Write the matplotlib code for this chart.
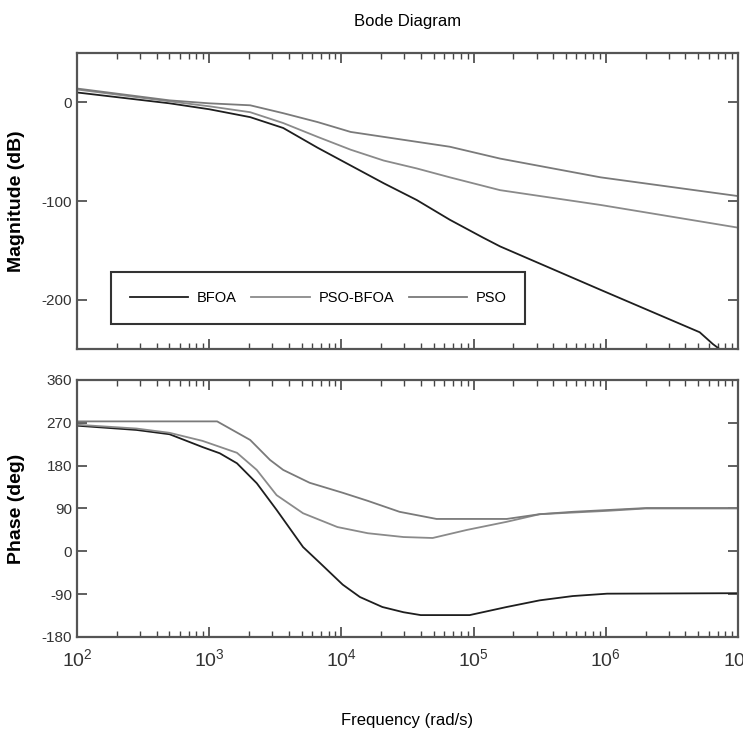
import matplotlib
matplotlib.use("Agg")
import matplotlib.pyplot as plt
import numpy as np
from matplotlib.ticker import LogLocator, FixedLocator, NullFormatter

plt.rcParams["font.family"] = ["Liberation Sans", "DejaVu Sans"]
plt.rcParams["axes.unicode_minus"] = False

# log10 frequency (rad/s) points
mag_logw_bfoa = [2.0, 2.7, 3.0, 3.31, 3.56, 3.82, 4.07, 4.32, 4.57, 4.82, 5.07, 5.2,
                 5.96, 6.71, 6.81, 6.88]
mag_bfoa = [10, -1, -7, -15, -26, -46, -64, -82, -99, -119, -137, -146,
            -190, -233, -245, -252]

mag_logw_psobfoa = [2.0, 2.7, 3.0, 3.31, 3.56, 3.82, 4.07, 4.32, 4.57, 4.82, 5.2, 5.96, 7.0]
mag_psobfoa = [13, 1, -4, -10, -21, -35, -48, -59, -67, -76, -89, -104, -127]

mag_logw_pso = [2.0, 2.7, 3.0, 3.31, 3.56, 3.82, 4.07, 4.32, 4.57, 4.82, 5.2, 5.96, 7.0]
mag_pso = [14, 2, -1, -3, -11, -20, -30, -35, -40, -45, -57, -76, -95]

ph_logw_bfoa = [2.0, 2.45, 2.7, 2.95, 3.08, 3.21, 3.36, 3.51, 3.71, 3.84, 4.01, 4.14,
                4.31, 4.47, 4.6, 4.97, 5.25, 5.5, 5.75, 6.01, 7.0]
ph_bfoa = [264, 255, 246, 219, 206, 185, 143, 87, 9, -25, -70, -96,
           -117, -128, -134, -134, -117, -103, -94, -89, -88]

ph_logw_psobfoa = [2.0, 2.45, 2.7, 2.95, 3.21, 3.36, 3.51, 3.71, 3.97, 4.2, 4.47, 4.69,
                   4.95, 5.25, 5.5, 6.01, 6.3, 7.0]
ph_psobfoa = [266, 258, 249, 232, 207, 171, 118, 80, 51, 38, 30, 28,
              45, 62, 78, 85, 90, 90]

ph_logw_pso = [2.0, 3.06, 3.31, 3.46, 3.56, 3.76, 4.01, 4.2, 4.44, 4.72, 5.25, 5.5,
               5.75, 6.31, 7.0]
ph_pso = [273, 273, 234, 192, 171, 144, 123, 106, 83, 68, 68, 78,
          83, 91, 91]

names = ["BFOA", "PSO-BFOA", "PSO"]
colors = ["#1e1e1e", "#8a8a8a", "#7a7a7a"]

fig = plt.figure(figsize=(7.43, 7.32), dpi=100)
ax1 = fig.add_axes([0.1036, 0.5232, 0.8897, 0.4044])
ax2 = fig.add_axes([0.1036, 0.1298, 0.8897, 0.3511])

mag_sets = [(mag_logw_bfoa, mag_bfoa), (mag_logw_psobfoa, mag_psobfoa), (mag_logw_pso, mag_pso)]
ph_sets = [(ph_logw_bfoa, ph_bfoa), (ph_logw_psobfoa, ph_psobfoa), (ph_logw_pso, ph_pso)]

for (lw_, m), (pw, p), name, c in zip(mag_sets, ph_sets, names, colors):
    ax1.plot(10 ** np.array(lw_), m, color=c, lw=1.3, label=name)
    ax2.plot(10 ** np.array(pw), p, color=c, lw=1.3)

for ax in (ax1, ax2):
    ax.set_xscale("log")
    ax.set_xlim(1e2, 1e7)
    ax.xaxis.set_major_locator(LogLocator(base=10, numticks=10))
    ax.xaxis.set_minor_locator(LogLocator(base=10, subs=np.arange(2, 10), numticks=10))
    ax.xaxis.set_minor_formatter(NullFormatter())
    ax.tick_params(which="both", direction="in", top=True, right=True,
                   colors="#444444", labelcolor="#333333", labelsize=11)
    ax.tick_params(which="major", length=7, width=1.2)
    ax.tick_params(which="minor", length=4, width=1.0)
    for s in ax.spines.values():
        s.set_color("#555555")
        s.set_linewidth(1.6)

ax1.set_ylim(-250, 50)
ax1.yaxis.set_major_locator(FixedLocator([0, -100, -200]))
ax1.set_xticklabels([])
ax2.set_ylim(-180, 360)
ax2.yaxis.set_major_locator(FixedLocator([-180, -90, 0, 90, 180, 270, 360]))
ax2.tick_params(axis="x", which="major", labelsize=14, pad=8)

ax1.set_ylabel("Magnitude (dB)", fontweight="bold", fontsize=14)
ax2.set_ylabel("Phase (deg)", fontweight="bold", fontsize=14)
ax1.yaxis.set_label_coords(-0.078, 0.5)
ax2.yaxis.set_label_coords(-0.078, 0.5)

leg = ax1.legend(ncol=3, loc="lower left", bbox_to_anchor=(0.04, 0.06),
                 fontsize=10.5, frameon=True, fancybox=False, handlelength=4.0,
                 columnspacing=1.0, borderpad=1.3, handletextpad=0.6)
leg.get_frame().set_edgecolor("black")
leg.get_frame().set_linewidth(1.5)

fig.text(0.548, 0.97, "Bode Diagram", ha="center", va="center", fontsize=12)
fig.text(0.548, 0.016, "Frequency (rad/s)", ha="center", va="center", fontsize=12)

fig.savefig("out.png", dpi=100)
